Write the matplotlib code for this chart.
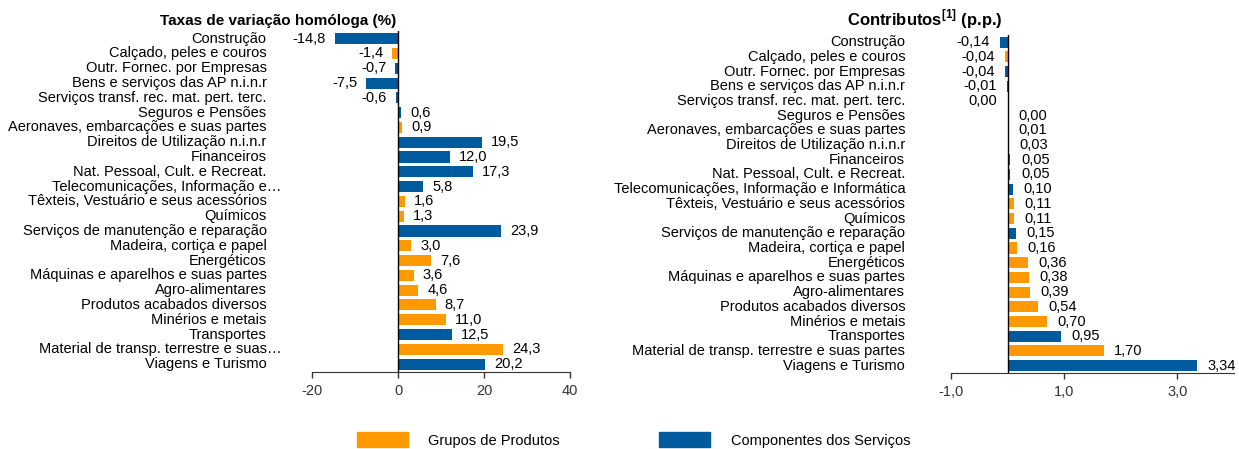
import math
import matplotlib
matplotlib.use("Agg")
import matplotlib.pyplot as plt
from matplotlib.patches import Patch

# Dados (categorias de cima para baixo)
categorias = [
    "Construção", "Calçado, peles e couros", "Outr. Fornec. por Empresas",
    "Bens e serviços das AP n.i.n.r", "Serviços transf. rec. mat. pert. terc.",
    "Seguros e Pensões", "Aeronaves, embarcações e suas partes",
    "Direitos de Utilização n.i.n.r", "Financeiros", "Nat. Pessoal, Cult. e Recreat.",
    "Telecomunicações, Informação e Informática", "Têxteis, Vestuário e seus acessórios",
    "Químicos", "Serviços de manutenção e reparação", "Madeira, cortiça e papel",
    "Energéticos", "Máquinas e aparelhos e suas partes", "Agro-alimentares",
    "Produtos acabados diversos", "Minérios e metais", "Transportes",
    "Material de transp. terrestre e suas partes", "Viagens e Turismo",
]
# rotulos truncados no grafico da esquerda
rotulos_esq = list(categorias)
rotulos_esq[10] = "Telecomunicações, Informação e…"
rotulos_esq[21] = "Material de transp. terrestre e suas…"

# S = Componentes dos Serviços, P = Grupos de Produtos
grupo = ["S", "P", "S", "S", "S", "S", "P", "S", "S", "S", "S", "P",
         "P", "S", "P", "P", "P", "P", "P", "P", "S", "P", "S"]

taxas = [-14.8, -1.4, -0.7, -7.5, -0.6, 0.6, 0.9, 19.5, 12.0, 17.3, 5.8, 1.6,
         1.3, 23.9, 3.0, 7.6, 3.6, 4.6, 8.7, 11.0, 12.5, 24.3, 20.2]
contributos = [-0.14, -0.04, -0.04, -0.01, -0.0, 0.00, 0.01, 0.03, 0.05, 0.05, 0.10, 0.11,
               0.11, 0.15, 0.16, 0.36, 0.38, 0.39, 0.54, 0.70, 0.95, 1.70, 3.34]

LARANJA = "#FF9900"
AZUL = "#005A9E"
cores = [LARANJA if g == "P" else AZUL for g in grupo]

plt.rcParams["font.family"] = ["Liberation Sans", "DejaVu Sans"]
plt.rcParams["mathtext.fontset"] = "custom"
plt.rcParams["mathtext.rm"] = "Liberation Sans:bold"
plt.rcParams["mathtext.bf"] = "Liberation Sans:bold"
FS = 10.5
TICK_FONT = ["Liberation Sans Narrow", "Liberation Sans", "DejaVu Sans"]

fig = plt.figure(figsize=(12.39, 4.49), dpi=100)
ax1 = fig.add_axes([0.2521, 0.1726, 0.2082, 0.7577])
ax2 = fig.add_axes([0.7676, 0.1693, 0.2284, 0.7532])


def desenhar(ax, valores, rotulos, xlim, xticks, xticklabels, fmt, gap):
    n = len(valores)
    pos = list(range(n))
    ax.barh(pos, valores, height=0.75, color=cores, zorder=2)
    ax.set_ylim(n - 0.5, -0.5)
    ax.set_xlim(*xlim)
    ax.axvline(0, color="black", lw=1.0, zorder=3)
    for s in ["top", "right", "left"]:
        ax.spines[s].set_visible(False)
    ax.spines["bottom"].set_color("#333333")
    ax.set_yticks([])
    ax.set_xticks(xticks)
    ax.set_xticklabels(xticklabels, family=TICK_FONT, fontsize=FS, color="#333333")
    ax.tick_params(axis="x", direction="out", length=4, width=1, color="#333333", pad=5)
    # rotulos das categorias
    ytrans = ax.get_yaxis_transform()
    for i, txt in enumerate(rotulos):
        dx = -33.0
        if txt.endswith("…"):
            dx += 11
        ax.annotate(txt, xy=(0, i), xycoords=ytrans, xytext=(dx, 0),
                    textcoords="offset points", ha="right", va="center", fontsize=FS)
    # valores
    for i, v in enumerate(valores):
        txt = fmt(v)
        neg = math.copysign(1, v) < 0
        ax.annotate(txt, xy=(v, i), xytext=(-gap if neg else gap, 0),
                    textcoords="offset points", ha="right" if neg else "left",
                    va="center", fontsize=FS, annotation_clip=False)


def fmt1(v):
    return f"{v:.1f}".replace(".", ",")


def fmt2(v):
    t = f"{v:.2f}".replace(".", ",")
    return "0,00" if t == "-0,00" else t


desenhar(ax1, taxas, rotulos_esq, (-20, 40), [-20, 0, 20, 40],
         ["-20", "0", "20", "40"], fmt1, 6.5)
desenhar(ax2, contributos, categorias, (-1, 4), [-1, 1, 3],
         ["-1,0", "1,0", "3,0"], fmt2, 7.5)

fig.text(0.2245, 0.953, "Taxas de variação homóloga (%)", ha="center", va="center",
         fontsize=11, fontweight="bold")
fig.text(0.7465, 0.958, r"Contributos$^{[1]}$ (p.p.)", ha="center", va="center",
         fontsize=12, fontweight="bold")

handles = [Patch(color=LARANJA, label="Grupos de Produtos"),
           Patch(color=AZUL, label="Componentes dos Serviços")]
fig.legend(handles=handles, loc="center", bbox_to_anchor=(0.5113, 0.02), ncol=2,
           frameon=False, fontsize=FS, handlelength=3.5, handleheight=1.2,
           columnspacing=6.8, handletextpad=1.4)

fig.savefig("out.png", dpi=100)
